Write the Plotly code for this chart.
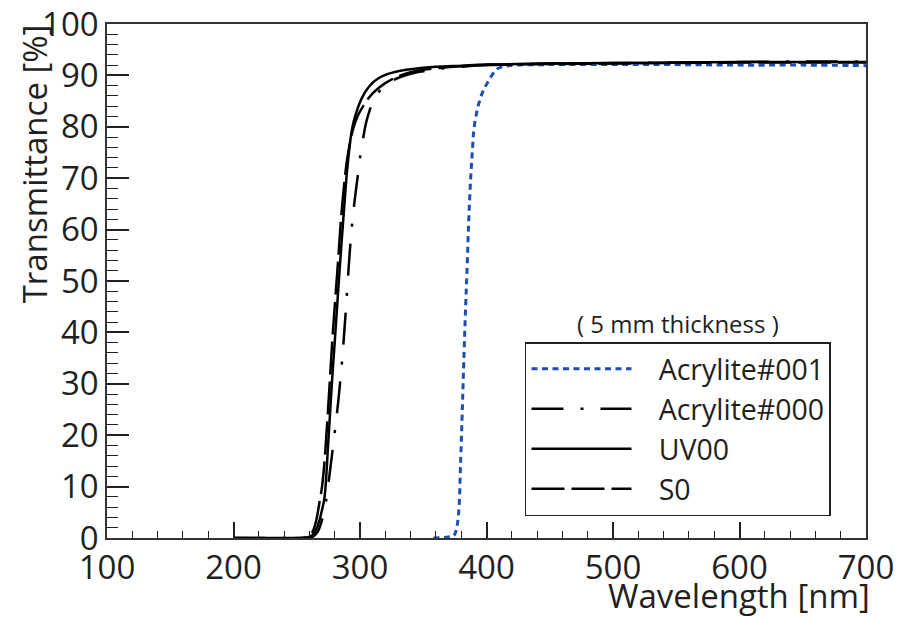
import plotly.graph_objects as go

# ---- data ----
wl_acr001 = [358, 365, 370, 374, 376, 378, 379.5, 381, 382, 383.5, 384.8, 386, 387.4, 389, 390, 392, 394, 397,
             400.6, 405, 408.6, 415, 422, 450, 500, 550, 600, 650, 700]
t_acr001 = [0, 0.1, 0.2, 0.4, 1.5, 5, 14.5, 26, 34, 45, 53.4, 62, 69.6, 76, 79.4, 82.5, 84.6, 86.8,
            88.5, 90.3, 91.3, 91.8, 92.0, 92.1, 92.1, 92.1, 92.0, 92.0, 91.9]

wl_acr000 = [200, 250, 260, 263, 266, 268, 270, 273, 276, 280, 283, 286, 289, 292, 295, 298, 300, 303, 305, 308,
             310, 315, 320, 325, 330, 340, 350, 360, 380, 400, 450, 500, 550, 600, 650, 700]
t_acr000 = [0, 0, 0, 0.3, 1, 2, 3.5, 7, 12.5, 20.5, 27, 35, 45, 56, 64, 70, 74, 78.5, 81, 83.5,
            84.8, 86.8, 88, 88.9, 89.5, 90.3, 90.8, 91.2, 91.7, 92.0, 92.3, 92.4, 92.5, 92.6, 92.7, 92.7]

wl_uv00 = [200, 230, 250, 258, 262, 265, 268, 270, 272, 275, 278, 280, 283, 285, 288, 290, 293, 295, 298, 300,
           303, 305, 310, 315, 320, 325, 330, 340, 350, 360, 380, 400, 450, 500, 550, 600, 650, 700]
t_uv00 = [0, 0, 0, 0.1, 0.5, 1.5, 3.5, 5.5, 8, 19, 31, 38, 49, 56, 66, 72, 78.5, 81, 83.5, 84.8,
          86.3, 87.1, 88.6, 89.5, 90.1, 90.5, 90.8, 91.2, 91.5, 91.7, 91.9, 92.1, 92.3, 92.4, 92.5, 92.6, 92.6, 92.6]

wl_s0 = [200, 250, 258, 262, 265, 268, 270, 272, 275, 278, 280, 283, 285, 288, 290, 293, 295, 298, 300,
         303, 305, 310, 315, 320, 325, 330, 340, 350, 360, 380, 400, 450, 500, 550, 600, 650, 700]
t_s0 = [0, 0, 0.2, 1, 3, 7, 10, 15, 26, 38, 45, 55, 62, 70, 74, 78, 80, 82, 83,
        84.2, 85, 86.5, 87.6, 88.5, 89.2, 89.8, 90.6, 91.1, 91.4, 91.8, 92.0, 92.2, 92.3, 92.4, 92.5, 92.5, 92.5]

series_names = ["Acrylite#001", "Acrylite#000", "UV00", "S0"]
x_ticks = [100, 200, 300, 400, 500, 600, 700]
y_ticks = [0, 10, 20, 30, 40, 50, 60, 70, 80, 90, 100]

TXT = "#231f20"
FONT = "Open Sans"
PAD = "\u00a0\u00a0\u00a0"

fig = go.Figure()
fig.add_trace(go.Scatter(x=wl_acr001, y=t_acr001, mode="lines", name=PAD + series_names[0],
                         line=dict(color="#1c4fb0", width=3, dash="6px,4.5px"), line_shape="spline"))
fig.add_trace(go.Scatter(x=wl_acr000, y=t_acr000, mode="lines", name=PAD + series_names[1],
                         line=dict(color="black", width=2.5, dash="32px,17px,3px,17px"), line_shape="spline"))
fig.add_trace(go.Scatter(x=wl_uv00, y=t_uv00, mode="lines", name=PAD + series_names[2],
                         line=dict(color="black", width=2.5), line_shape="spline"))
fig.add_trace(go.Scatter(x=wl_s0, y=t_s0, mode="lines", name=PAD + series_names[3],
                         line=dict(color="black", width=2.5, dash="33px,7px"), line_shape="spline"))

fig.update_layout(
    width=898, height=618,
    margin=dict(l=107, r=32, t=24, b=80, autoexpand=False),
    paper_bgcolor="white", plot_bgcolor="white",
    font=dict(family=FONT, color=TXT, size=26),
    showlegend=True,
    legend=dict(x=0.5507, y=0.381, xanchor="left", yanchor="top",
                bgcolor="white", bordercolor=TXT, borderwidth=1.5,
                font=dict(family=FONT, size=28.5, color=TXT),
                itemwidth=100, tracegroupgap=0),
    xaxis=dict(range=[100, 700], tickvals=x_ticks, ticktext=[str(v) for v in x_ticks],
               ticks="inside", ticklen=16, tickwidth=1.5, tickcolor=TXT,
               minor=dict(dtick=20, ticks="inside", ticklen=7, tickwidth=1.2, tickcolor=TXT),
               showline=True, linecolor="#333333", linewidth=1.5, mirror=True,
               showgrid=False, zeroline=False, automargin=False, ticklabeloverflow="allow",
               tickfont=dict(family=FONT, size=33, color=TXT)),
    yaxis=dict(range=[0, 100], tickvals=y_ticks, ticktext=[str(v) for v in y_ticks],
               ticks="inside", ticklen=22, tickwidth=1.5, tickcolor=TXT,
               minor=dict(dtick=2, ticks="inside", ticklen=11, tickwidth=1.2, tickcolor=TXT),
               showline=True, linecolor="#333333", linewidth=1.5, mirror=True,
               showgrid=False, zeroline=False, automargin=False, ticklabeloverflow="allow",
               tickfont=dict(family=FONT, size=33, color=TXT)),
    annotations=[
        dict(text="Wavelength [nm]", xref="paper", yref="paper", x=1.008, y=-0.112,
             xanchor="right", yanchor="middle", showarrow=False,
             font=dict(family=FONT, size=33, color=TXT)),
        dict(text="Transmittance [%]", xref="paper", yref="paper", x=-0.095, y=1.004,
             xanchor="center", yanchor="top", textangle=-90, showarrow=False,
             font=dict(family=FONT, size=33, color=TXT)),
        dict(text="( 5 mm thickness )", xref="paper", yref="paper", x=0.752, y=0.418,
             xanchor="center", yanchor="middle", showarrow=False,
             font=dict(family=FONT, size=24, color=TXT)),
    ],
)

fig.write_html("out.html", config={"displayModeBar": False},
               post_script="document.body.style.margin='0';")
